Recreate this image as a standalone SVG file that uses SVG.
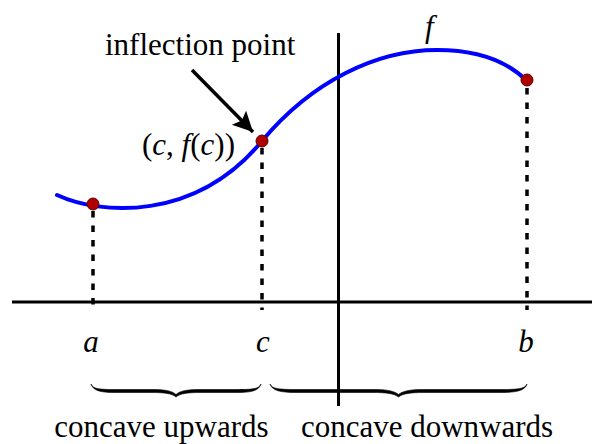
<svg xmlns="http://www.w3.org/2000/svg" width="592" height="444" viewBox="0 0 592 444">
  <style>
    text { font-family: 'Liberation Serif', 'DejaVu Serif', serif; font-size: 31px; fill: #000; }
    .it { font-style: italic; }
    .axis { stroke: #000; stroke-width: 3; fill: none; }
    .dash { stroke: #000; stroke-width: 3.5; stroke-dasharray: 6.5 8; fill: none; }
    .curve { stroke: #0000ff; stroke-width: 4; fill: none; stroke-linecap: round; }
    .dot { fill: #b00000; stroke: #5a0000; stroke-width: 1; }
    .brace { fill: #000; stroke: #000; stroke-width: 0.6; stroke-linejoin: round; }
  </style>
  <defs>
    <marker id="arrowhead" markerUnits="userSpaceOnUse" markerWidth="24" markerHeight="24" refX="20" refY="10" orient="auto">
      <path d="M0,0 L20,10 L0,20 L4,10 Z" fill="#000"/>
    </marker>
  </defs>
  <rect width="592" height="444" fill="#fff"/>

  <g id="axes">
    <line class="axis" x1="12" y1="302" x2="592" y2="302"/>
    <line class="axis" x1="338.5" y1="33" x2="338.5" y2="406"/>
  </g>

  <g id="connectors">
    <line class="dash" x1="93" y1="211" x2="93" y2="310"/>
    <line class="dash" x1="262" y1="148" x2="262" y2="310"/>
    <line class="dash" x1="527" y1="88" x2="527" y2="310"/>
    <line id="arrow" x1="192" y1="70" x2="253" y2="132" stroke="#000" stroke-width="3.5" marker-end="url(#arrowhead)"/>
  </g>

  <g font-family="Liberation Serif, serif" font-size="31">
  <g id="curve-f">
    <path class="curve" d="M57,195 C100,215 195,222 262,141 C312,81 377,50 437,50 C478,50 508,62 527,81"/>
    <text class="it" x="425" y="37">f</text>
  </g>

  <g id="point-a">
    <circle class="dot" cx="93" cy="204" r="6"/>
    <text class="it" x="91" y="352" text-anchor="middle">a</text>
  </g>

  <g id="point-c">
    <circle class="dot" cx="262" cy="141" r="6"/>
    <text class="it" x="263" y="352" text-anchor="middle">c</text>
    <text x="142" y="155">(<tspan class="it">c</tspan>, <tspan class="it">f</tspan>(<tspan class="it">c</tspan>))</text>
  </g>

  <g id="point-b">
    <circle class="dot" cx="527" cy="80" r="6"/>
    <text class="it" x="526" y="352" text-anchor="middle">b</text>
  </g>

  <g id="inflection-label">
    <text x="105" y="55">inflection point</text>
  </g>

  <g id="brace-up">
    <path class="brace" d="M91,384 C93,389 100,389.5 114,389.5 L152,389.5 C166,389.5 172,391 176,394.5 C180,391 186,389.5 200,389.5 L238,389.5 C252,389.5 259,389 261,384 C259,390.5 252,392.5 238,392.5 L200,392.5 C188,392.5 180,393.5 176,397 C172,393.5 164,392.5 152,392.5 L114,392.5 C100,392.5 93,390.5 91,384 Z"/>
    <text x="161.5" y="437" text-anchor="middle">concave upwards</text>
  </g>

  <g id="brace-down">
    <path class="brace" d="M270,384 C272,389 280,389.5 296,389.5 L373,389.5 C388,389.5 394,391 398.5,394.5 C403,391 409,389.5 424,389.5 L501,389.5 C517,389.5 525,389 527,384 C525,390.5 517,392.5 501,392.5 L424,392.5 C411,392.5 403,393.5 398.5,397 C394,393.5 386,392.5 373,392.5 L296,392.5 C280,392.5 272,390.5 270,384 Z"/>
    <text x="427" y="437" text-anchor="middle">concave downwards</text>
  </g>
  </g>
</svg>
